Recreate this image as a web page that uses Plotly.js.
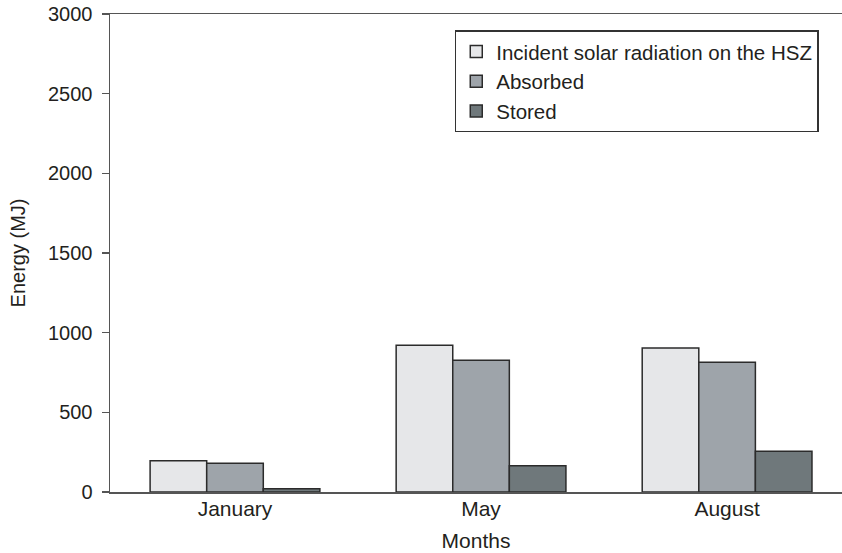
<!DOCTYPE html>
<html>
<head>
<meta charset="utf-8">
<script src="https://cdn.plot.ly/plotly-3.0.1.min.js"></script>
<style>html,body{margin:0;padding:0;background:#fff;}#chart{width:842px;height:553px;}</style>
</head>
<body>
<div id="chart"></div>
<script>
const months = ["January", "May", "August"];
const incident = [196, 921, 903];
const absorbed = [181, 827, 815];
const stored = [20, 164, 256];
const seriesNames = ["Incident solar radiation on the HSZ", "Absorbed", "Stored"];
const yTicks = [0, 500, 1000, 1500, 2000, 2500, 3000];

const colors = ["#e6e7e9", "#9ea4aa", "#6f787b"];
const allSeries = [incident, absorbed, stored];
const data = allSeries.map((vals, i) => ({
  type: "bar",
  name: seriesNames[i],
  x: months,
  y: vals,
  marker: {color: colors[i], line: {color: "#2b2b2b", width: 1.5}},
  hoverinfo: "skip"
}));

const fam = "Liberation Sans, Arial, sans-serif";
const txt = "#231f20";
const layout = {
  width: 842, height: 553,
  margin: {l: 110, r: 0, t: 14, b: 61, pad: 0},
  paper_bgcolor: "#fff", plot_bgcolor: "#fff",
  font: {family: fam, size: 20, color: txt},
  barmode: "group",
  bargap: 0.31,
  bargroupgap: 0,
  showlegend: true,
  legend: {
    x: 0.471, y: 0.966, xanchor: "left", yanchor: "top",
    bordercolor: "#333", borderwidth: 1.5, bgcolor: "#fff",
    font: {family: fam, size: 20.5, color: txt},
    tracegroupgap: 0,
    entrywidth: 340, entrywidthmode: "pixels"
  },
  xaxis: {
    type: "category",
    range: [-0.508, 2.467],
    showline: true, mirror: true, linecolor: "#555", linewidth: 1.5,
    ticks: "", showgrid: false, zeroline: false,
    tickfont: {size: 21},
    ticklabelstandoff: -3,
    title: {text: "Months", font: {size: 21}, standoff: 14}
  },
  yaxis: {
    range: [0, 3000],
    tickvals: yTicks,
    ticktext: yTicks.map(String),
    ticks: "outside", ticklen: 7, tickcolor: "#555", tickwidth: 1.5,
    ticklabelstandoff: 5,
    showline: true, linecolor: "#555", linewidth: 1.5,
    showgrid: false, zeroline: false,
    title: {text: "Energy (MJ)", font: {size: 20}, standoff: 17}
  }
};
Plotly.newPlot("chart", data, layout, {staticPlot: true});
</script>
</body>
</html>
